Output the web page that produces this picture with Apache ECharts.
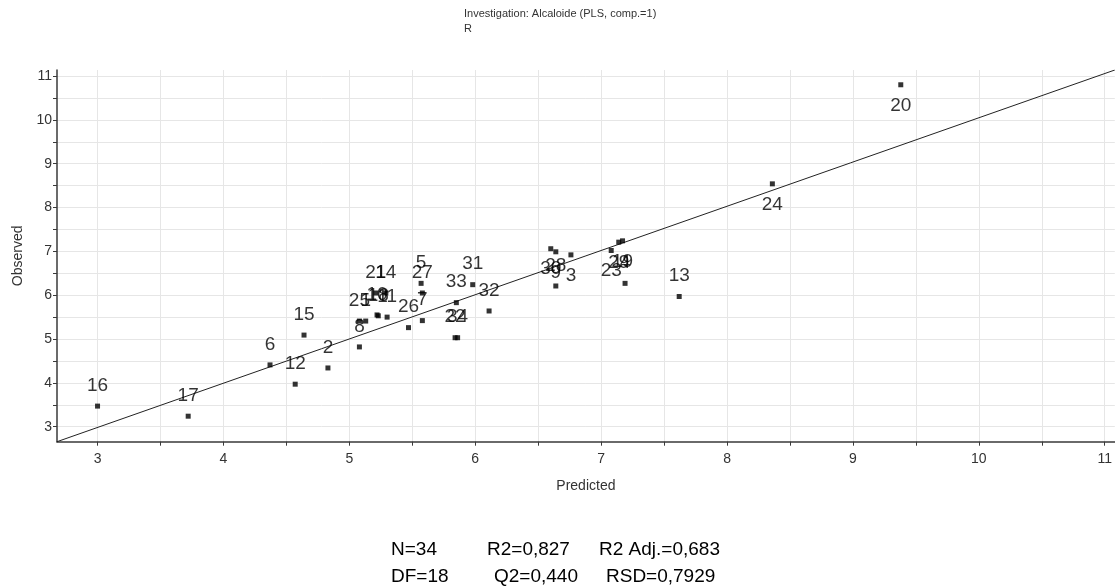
<!DOCTYPE html>
<html>
<head>
<meta charset="utf-8">
<script src="https://cdn.jsdelivr.net/npm/echarts@6/dist/echarts.min.js"></script>
<style>
html,body{margin:0;padding:0;background:#fff;}
#chart{width:1115px;height:588px;}
</style>
</head>
<body>
<div id="chart"></div>
<script>
// ---- data ----
const pointIds = ['16','17','6','12','15','2','8','25','1','10','18','11','21','14','5','27','7','26','33','31','32','22','34','30','9','3','28','23','29','19','4','13','24','20'];
const predicted = [3.00,3.72,4.37,4.57,4.64,4.83,5.08,5.08,5.13,5.22,5.23,5.30,5.21,5.29,5.57,5.58,5.58,5.47,5.85,5.98,6.11,5.84,5.86,6.60,6.64,6.76,6.64,7.08,7.14,7.17,7.19,7.62,8.36,9.38];
const observed  = [3.47,3.24,4.41,3.97,5.09,4.34,4.82,5.41,5.41,5.55,5.53,5.50,6.05,6.05,6.27,6.05,5.42,5.26,5.83,6.24,5.64,5.03,5.03,7.06,6.99,6.92,6.21,7.02,7.21,7.24,6.27,5.97,8.54,10.80];
const labelsBelow = ['30','9','3','23','29','19','24','20'];
const refLineX = [2.678, 11.08];
const refLineY = [2.658, 11.137];
const xTicks = [3,3.5,4,4.5,5,5.5,6,6.5,7,7.5,8,8.5,9,9.5,10,10.5,11];
const xLabels = [3,4,5,6,7,8,9,10,11];
const yTicks = [3,3.5,4,4.5,5,5.5,6,6.5,7,7.5,8,8.5,9,9.5,10,10.5,11];
const yLabels = [3,4,5,6,7,8,9,10,11];
const titleLines = ['Investigation: Alcaloide (PLS, comp.=1)', 'R'];
const statsRow1 = ['N=34', 'R2=0,827', 'R2 Adj.=0,683'];
const statsRow2 = ['DF=18', 'Q2=0,440', 'RSD=0,7929'];

// ---- chart ----
const chart = echarts.init(document.getElementById('chart'), null, {renderer: 'canvas'});
const FONT = '"Liberation Sans", Arial, sans-serif';
const scatterData = predicted.map((x, i) => ({
  value: [x, observed[i]],
  name: pointIds[i],
  label: {position: labelsBelow.includes(pointIds[i]) ? 'bottom' : 'top'}
}));

const statCols1 = [391, 487, 599];
const statCols2 = [391, 494, 606];
const graphics = [];
statsRow1.forEach((t, i) => graphics.push({type: 'text', left: statCols1[i], top: 540, style: {text: t, font: '19px ' + FONT, fill: '#000'}}));
statsRow2.forEach((t, i) => graphics.push({type: 'text', left: statCols2[i], top: 567, style: {text: t, font: '19px ' + FONT, fill: '#000'}}));

const axisCommon = {
  type: 'value',
  axisLine: {show: true, onZero: false, lineStyle: {color: '#3a3a3a', width: 1.5}},
  splitLine: {show: true, lineStyle: {color: '#e6e6e6', width: 1}},
  nameTextStyle: {fontFamily: FONT, fontSize: 14, color: '#333'}
};

chart.setOption({
  animation: false,
  backgroundColor: '#fff',
  title: {
    text: titleLines.join('\n'),
    left: 464, top: 6, padding: 0,
    textStyle: {fontFamily: FONT, fontSize: 11, fontWeight: 'normal', color: '#333', lineHeight: 15}
  },
  grid: {left: 57, top: 70, right: 0, bottom: 146.3, containLabel: false},
  xAxis: Object.assign({}, axisCommon, {
    min: 2.678, max: 11.08,
    name: 'Predicted', nameLocation: 'middle', nameGap: 37,
    axisTick: {show: true, customValues: xTicks, length: 4, lineStyle: {color: '#3a3a3a'}},
    axisLabel: {customValues: xLabels, fontFamily: FONT, fontSize: 14, color: '#333', margin: 10}
  }),
  yAxis: Object.assign({}, axisCommon, {
    min: 2.658, max: 11.137,
    name: 'Observed', nameLocation: 'middle', nameGap: 27, nameRotate: 90,
    axisTick: {show: true, customValues: yTicks, length: 4, lineStyle: {color: '#3a3a3a'}},
    axisLabel: {customValues: yLabels, fontFamily: FONT, fontSize: 14, color: '#333', margin: 5}
  }),
  series: [
    {
      type: 'line',
      data: refLineX.map((x, i) => [x, refLineY[i]]),
      symbol: 'none', silent: true,
      lineStyle: {color: '#222', width: 1},
      z: 2
    },
    {
      type: 'scatter',
      data: scatterData,
      symbol: 'rect', symbolSize: 5,
      itemStyle: {color: '#000'},
      label: {show: true, formatter: '{b}', distance: 8.5, fontFamily: FONT, fontSize: 19, color: '#000'},
      z: 3
    }
  ],
  graphic: graphics
});
</script>
</body>
</html>
